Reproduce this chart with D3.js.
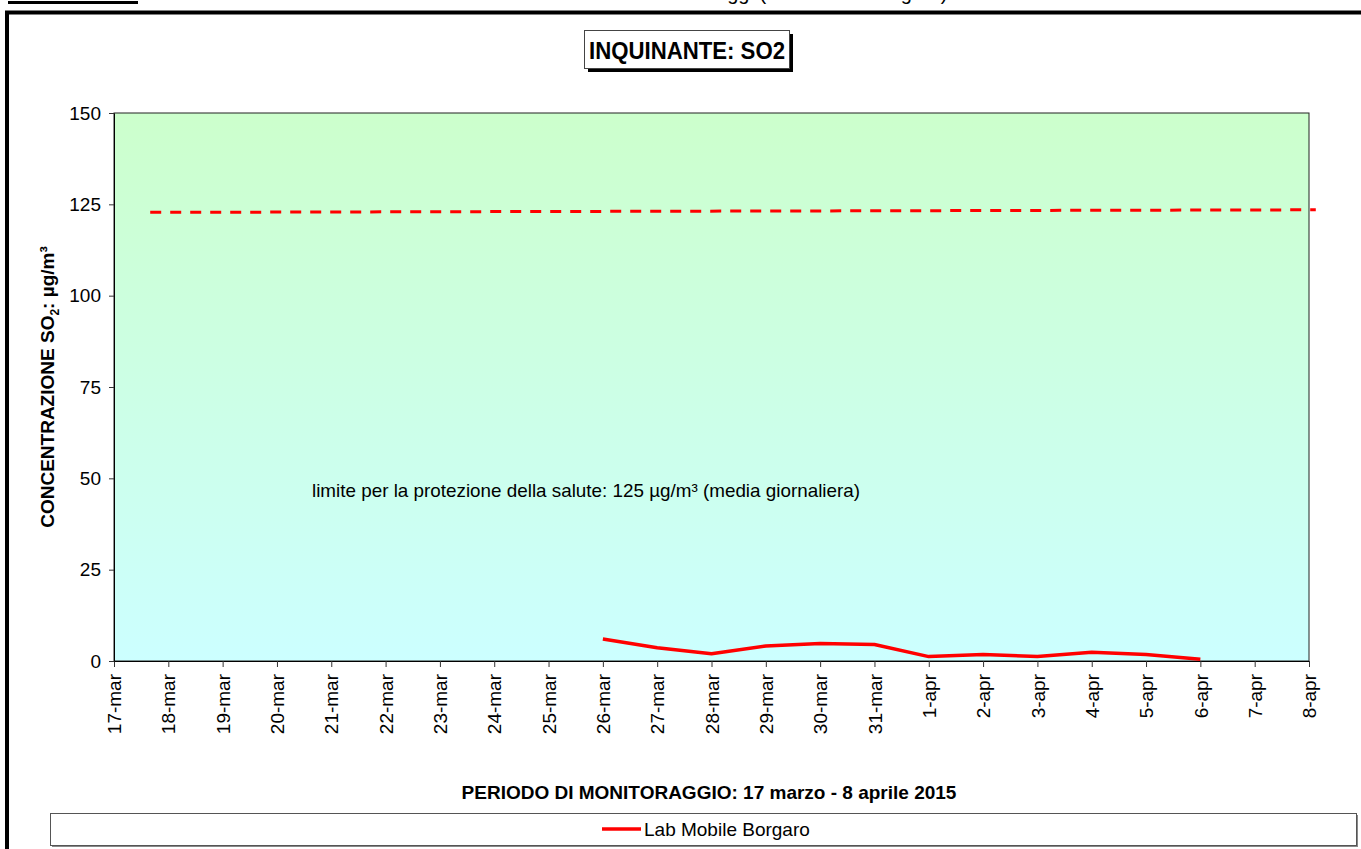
<!DOCTYPE html>
<html>
<head>
<meta charset="utf-8">
<script src="https://cdn.jsdelivr.net/npm/d3@7"></script>
<style>
  body { margin: 0; background: #fff; }
  svg { display: block; font-family: "Liberation Sans", Arial, sans-serif; }
</style>
</head>
<body>
<div id="canvas"></div>
<script>
//---- ---- DATA ---- ----
var startDay = '2015-03-17',
    endDay = '2015-04-08';

var tickLabels = ['17-mar','18-mar','19-mar','20-mar','21-mar','22-mar','23-mar','24-mar','25-mar',
  '26-mar','27-mar','28-mar','29-mar','30-mar','31-mar','1-apr','2-apr','3-apr','4-apr','5-apr','6-apr','7-apr','8-apr'];

var yTicks = [0, 25, 50, 75, 100, 125, 150];

var days = ['2015-03-26','2015-03-27','2015-03-28','2015-03-29','2015-03-30','2015-03-31',
  '2015-04-01','2015-04-02','2015-04-03','2015-04-04','2015-04-05','2015-04-06'];
var so2 = [6.0, 3.6, 2.0, 4.1, 4.8, 4.5, 1.2, 1.8, 1.2, 2.4, 1.8, 0.5];

// limit line (days after 17-mar, value)
var limitDays = [0.66, 22.12];
var limitVals = [122.8, 123.5];

var seriesName = 'Lab Mobile Borgaro';

//---- ---- SETUP ---- ----
var W = 1361, H = 849;
var m = {t:113, r:52, b:188, l:114};
var w = W - m.l - m.r,
    h = H - m.t - m.b;

var svg = d3.select('#canvas')
  .append('svg')
  .attr('width', W)
  .attr('height', H);

var parseDay = d3.utcParse('%Y-%m-%d');
var t0 = parseDay(startDay), t1 = parseDay(endDay);

//---- ---- SCALES ---- ----
var scaleX = d3.scaleUtc().domain([t0, t1]).range([0, w]);
var scaleY = d3.scaleLinear().domain([0, 150]).range([h, 0]);

//---- ---- PAGE DECORATION ---- ----
// caption line above the frame, cut by the page edge as in the source
svg.append('text')
  .attr('x', 700).attr('y', 0)
  .attr('text-anchor', 'middle')
  .style('font-size', '20px')
  .text('Concentrazioni SO2 - Monitoraggi (Lab Mobile Borgaro)');
svg.append('rect')
  .attr('x', 8).attr('y', 1).attr('width', 130).attr('height', 3)
  .attr('fill', '#000');

// outer frame
svg.append('rect')
  .attr('x', 7).attr('y', 12.5)
  .attr('width', 1400).attr('height', 900)
  .attr('fill', 'none').attr('stroke', '#000').attr('stroke-width', 4);

//---- ---- PLOT AREA ---- ----
var defs = svg.append('defs');
var grad = defs.append('linearGradient')
  .attr('id', 'bg').attr('x1', 0).attr('y1', 0).attr('x2', 0).attr('y2', 1);
grad.append('stop').attr('offset', '0%').attr('stop-color', '#ccffcc');
grad.append('stop').attr('offset', '100%').attr('stop-color', '#ccffff');

var plot = svg.append('g')
  .attr('transform', 'translate(' + m.l + ',' + m.t + ')');

plot.append('rect')
  .attr('width', w).attr('height', h)
  .attr('fill', 'url(#bg)')
  .attr('stroke', '#222').attr('stroke-width', 1);

//---- ---- AXES ---- ----
var tickDates = tickLabels.map(function(d, i){ return d3.utcDay.offset(t0, i); });

var axisX = d3.axisBottom(scaleX)
  .tickValues(tickDates)
  .tickFormat(function(d, i){ return tickLabels[i]; })
  .tickSize(6)
  .tickSizeOuter(0);

var gx = plot.append('g').attr('class', 'axis axis-x')
  .attr('transform', 'translate(0,' + h + ')')
  .call(axisX);
gx.select('.domain').attr('stroke', '#000');
gx.selectAll('.tick line').attr('stroke', '#333');
gx.selectAll('.tick text')
  .attr('transform', 'rotate(-90)')
  .attr('text-anchor', 'end')
  .attr('x', -13).attr('y', 0).attr('dy', '0.35em')
  .style('font-size', '19px').attr('fill', '#000');

var axisY = d3.axisLeft(scaleY)
  .tickValues(yTicks)
  .tickSize(5)
  .tickSizeOuter(0);

var gy = plot.append('g').attr('class', 'axis axis-y').call(axisY);
gy.select('.domain').attr('stroke', '#000');
gy.selectAll('.tick line').attr('stroke', '#333');
gy.selectAll('.tick text')
  .attr('x', -13)
  .style('font-size', '19px').attr('fill', '#000');

//---- ---- LIMIT LINE ---- ----
var limitLine = d3.line()
  .x(function(d, i){ return scaleX(d3.utcHour.offset(t0, Math.round(limitDays[i] * 24))); })
  .y(function(d){ return scaleY(d); });

plot.append('path')
  .datum(limitVals)
  .attr('d', limitLine)
  .attr('fill', 'none')
  .attr('stroke', '#ff0000')
  .attr('stroke-width', 3)
  .attr('stroke-dasharray', '11,9');

plot.append('text')
  .attr('x', 312 - m.l).attr('y', scaleY(50) + 19)
  .style('font-size', '19px')
  .attr('textLength', 548).attr('lengthAdjust', 'spacingAndGlyphs')
  .text('limite per la protezione della salute: 125 µg/m³ (media giornaliera)');

//---- ---- DATA LINE ---- ----
var line = d3.line()
  .x(function(d, i){ return scaleX(parseDay(days[i])); })
  .y(function(d){ return scaleY(d); });

plot.append('path')
  .datum(so2)
  .attr('d', line)
  .attr('fill', 'none')
  .attr('stroke', '#ff0000')
  .attr('stroke-width', 3.5)
  .attr('stroke-linejoin', 'round');

//---- ---- TITLES ---- ----
// title box with shadow
svg.append('rect')
  .attr('x', 588).attr('y', 34).attr('width', 205).attr('height', 38)
  .attr('fill', '#000');
svg.append('rect')
  .attr('x', 584.5).attr('y', 30.5).attr('width', 205).attr('height', 38)
  .attr('fill', '#fff').attr('stroke', '#444').attr('stroke-width', 1);
svg.append('text')
  .attr('x', 589).attr('y', 59)
  .style('font-size', '23px').style('font-weight', 'bold')
  .attr('textLength', 196).attr('lengthAdjust', 'spacingAndGlyphs')
  .text('INQUINANTE: SO2');

// y title
var yt = svg.append('text')
  .attr('transform', 'translate(54,' + (m.t + scaleY(75)) + ') rotate(-90)')
  .attr('text-anchor', 'middle')
  .style('font-size', '19px').style('font-weight', 'bold');
yt.append('tspan').text('CONCENTRAZIONE SO');
yt.append('tspan').attr('dy', 5).style('font-size', '12px').text('2');
yt.append('tspan').attr('dy', -5).text(':  µg/m³');

// x title
svg.append('text')
  .attr('x', 709).attr('y', 799)
  .attr('text-anchor', 'middle')
  .style('font-size', '19px').style('font-weight', 'bold')
  .text('PERIODO DI MONITORAGGIO: 17 marzo - 8 aprile 2015');

//---- ---- LEGEND ---- ----
svg.append('rect')
  .attr('x', 52).attr('y', 815).attr('width', 1306).attr('height', 32)
  .attr('fill', '#888');
svg.append('rect')
  .attr('x', 50.5).attr('y', 813.5).attr('width', 1306).attr('height', 32)
  .attr('fill', '#fff').attr('stroke', '#555').attr('stroke-width', 1);
svg.append('line')
  .attr('x1', 602).attr('x2', 641).attr('y1', 829).attr('y2', 829)
  .attr('stroke', '#ff0000').attr('stroke-width', 3.5);
svg.append('text')
  .attr('x', 644).attr('y', 836)
  .style('font-size', '19px')
  .text(seriesName);
</script>
</body>
</html>
